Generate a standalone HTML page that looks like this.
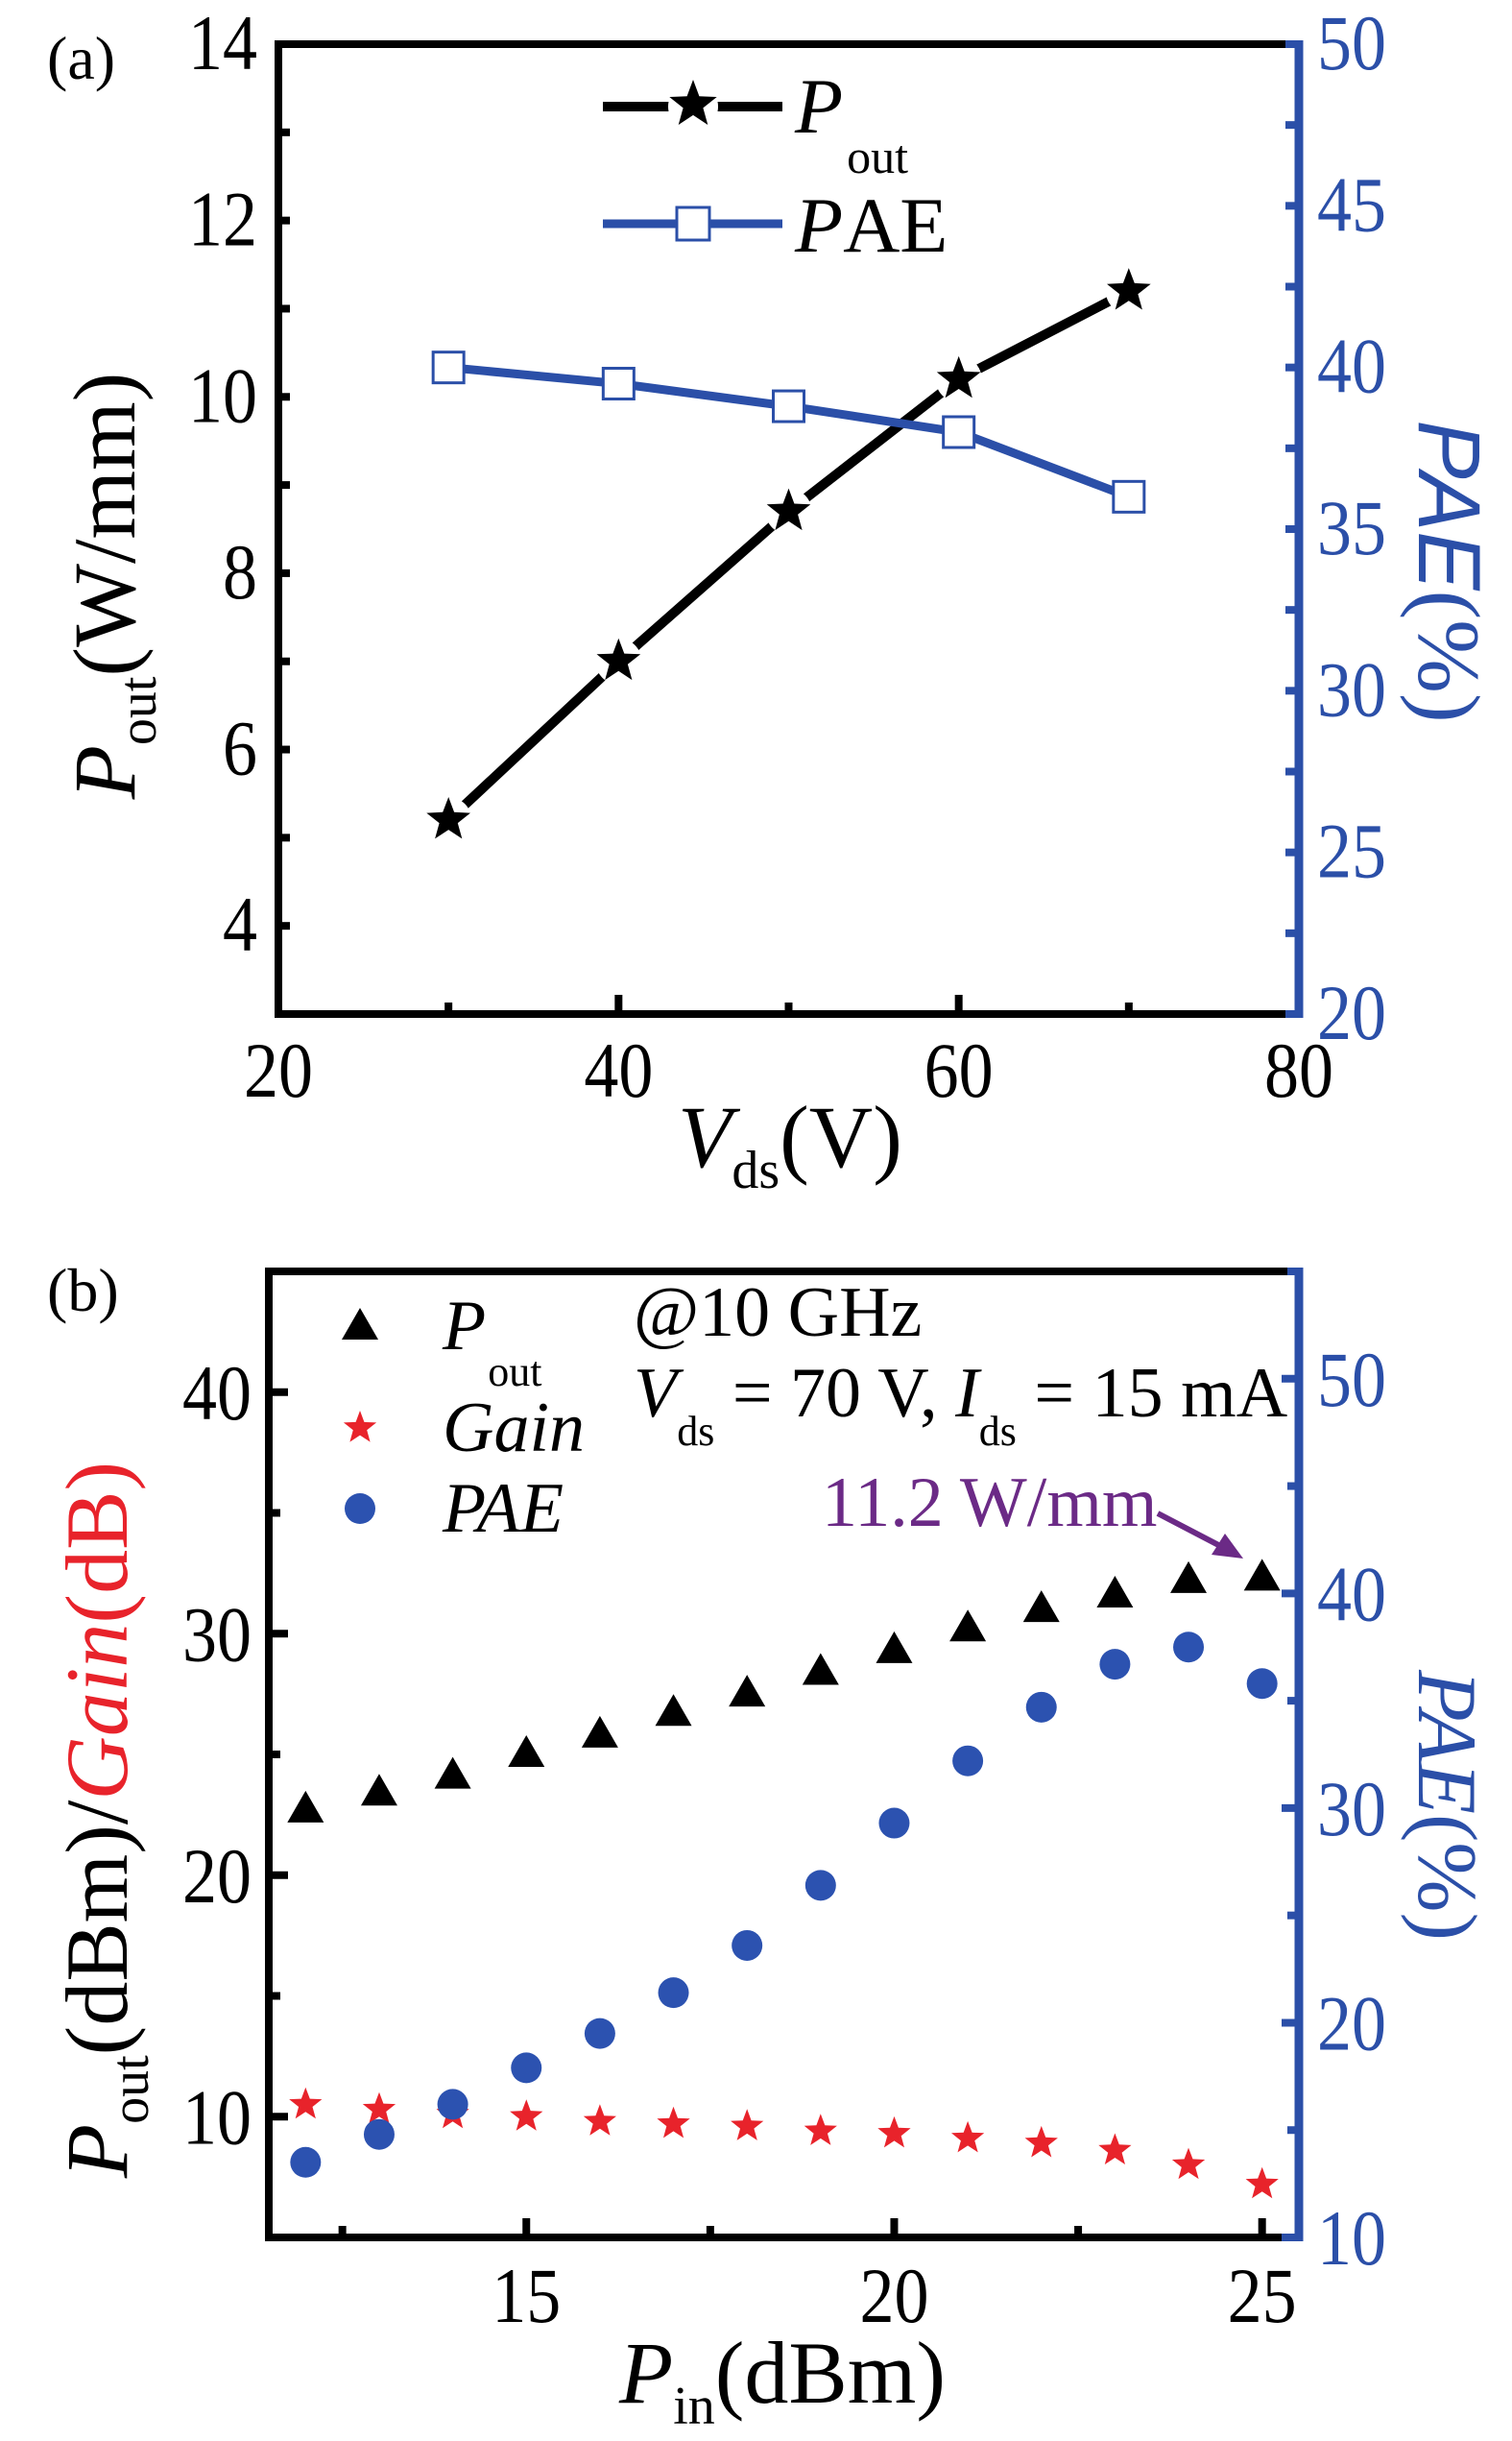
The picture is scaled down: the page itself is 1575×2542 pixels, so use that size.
<!DOCTYPE html>
<html><head><meta charset="utf-8"><style>
html,body{margin:0;padding:0;background:#fff}
svg{display:block}
text{font-family:"Liberation Serif",serif}
</style></head><body>
<svg id="c" width="1575" height="2542" viewBox="0 0 1575 2542" xmlns="http://www.w3.org/2000/svg"></svg>
<script>
// Panel (a) data
const aVds = [30, 40, 50, 60, 70];
const aPout = [5.2, 7.0, 8.7, 10.2, 11.2];
const aPae = [40.0, 39.5, 38.8, 38.0, 36.0];
const aLeftTicks = [4, 6, 8, 10, 12, 14];
const aRightTicks = [20, 25, 30, 35, 40, 45, 50];
const aXTicks = [20, 40, 60, 80];
// Panel (b) data
const bPin = [12, 13, 14, 15, 16, 17, 18, 19, 20, 21, 22, 23, 24, 25];
const bPout = [22.7, 23.4, 24.1, 25.0, 25.8, 26.7, 27.5, 28.4, 29.3, 30.2, 31.0, 31.6, 32.2, 32.3];
const bGain = [10.5, 10.3, 10.1, 10.0, 9.8, 9.7, 9.6, 9.4, 9.3, 9.1, 8.9, 8.6, 8.0, 7.2];
const bPae = [13.5, 14.8, 16.2, 17.9, 19.5, 21.4, 23.6, 26.4, 29.3, 32.2, 34.7, 36.7, 37.5, 35.8];
const bLeftTicks = [10, 20, 30, 40];
const bRightTicks = [10, 20, 30, 40, 50];
const bXTicks = [15, 20, 25];

const svg = document.getElementById('c');
const NS = 'http://www.w3.org/2000/svg';
function mk(tag, attrs, parent) {
  const e = document.createElementNS(NS, tag);
  for (const k in attrs) e.setAttribute(k, attrs[k]);
  (parent || svg).appendChild(e);
  return e;
}
const BLUE = '#2b4fa8', RED = '#e8232b', PURP = '#6b2a86';
function txt(x, y, s, fs, anchor, fill, extra) {
  const t = mk('text', Object.assign({x: x, y: y, 'font-size': fs, 'text-anchor': anchor || 'middle', fill: fill || '#000'}, extra || {}));
  t.textContent = s;
  return t;
}
function star(cx, cy, r, fill) {
  let p = [];
  for (let i = 0; i < 10; i++) {
    const a = -Math.PI / 2 + i * Math.PI / 5;
    const rr = i % 2 ? r * 0.42 : r;
    p.push((cx + rr * Math.cos(a)).toFixed(1) + ',' + (cy + rr * Math.sin(a)).toFixed(1));
  }
  return mk('polygon', {points: p.join(' '), fill: fill});
}

// ---------------- Panel A ----------------
const A = {l: 290, r: 1353, t: 46, b: 1056};
const ax = v => A.l + (v - 20) / 60 * (A.r - A.l);
const ayL = v => A.b - (v - 3) / 11 * (A.b - A.t);
const ayR = v => A.b - (v - 20) / 30 * (A.b - A.t);

let e = txt(49, 82, '(a)', 64, 'start');
 
e = mk('rect', {x: A.l, y: A.t, width: A.r - A.l, height: A.b - A.t, fill: 'none', stroke: '#000', 'stroke-width': 8});
 
e = mk('line', {x1: A.r, y1: A.t - 4, x2: A.r, y2: A.b + 4, stroke: BLUE, 'stroke-width': 9});
 
for (let v = 3; v <= 14; v++) {
  const y = ayL(v);
  mk('line', {x1: A.l, y1: y, x2: A.l + 12, y2: y, stroke: '#000', 'stroke-width': 8});
}
aLeftTicks.forEach(v => {
  e = txt(268, ayL(v) + 26, String(v), 82, 'end', '#000', {textLength: String(v).length * 36, lengthAdjust: 'spacingAndGlyphs'});
   
});
for (let v = 20; v <= 50; v += 2.5) {
  const y = ayR(v);
  mk('line', {x1: A.r - 14, y1: y, x2: A.r, y2: y, stroke: BLUE, 'stroke-width': 8});
}
aRightTicks.forEach(v => {
  e = txt(1372, ayR(v) + 26, String(v), 82, 'start', BLUE, {textLength: 72, lengthAdjust: 'spacingAndGlyphs'});
   
});
for (let v = 30; v <= 70; v += 10) {
  const x = ax(v);
  mk('line', {x1: x, y1: A.b, x2: x, y2: A.b - (v % 20 === 0 ? 20 : 12), stroke: '#000', 'stroke-width': 8});
}
aXTicks.forEach(v => {
  e = txt(ax(v), 1142, String(v), 82, 'middle', '#000', {textLength: 72, lengthAdjust: 'spacingAndGlyphs'});
   
});
e = mk('text', {x: 823, y: 1215, 'font-size': 92, 'text-anchor': 'middle'});
e.innerHTML = '<tspan font-style="italic">V</tspan><tspan font-size="56" dy="22">ds</tspan><tspan dy="-22">(V)</tspan>';
 
e = mk('text', {x: 0, y: 0, 'font-size': 92, 'text-anchor': 'middle', transform: 'translate(140,610) rotate(-90)'});
e.innerHTML = '<tspan font-style="italic">P</tspan><tspan font-size="56" dy="22">out</tspan><tspan dy="-22">(W/mm)</tspan>';
 
e = mk('text', {x: 0, y: 0, 'font-size': 92, 'text-anchor': 'middle', fill: BLUE, transform: 'translate(1478,595) rotate(90)'});
e.innerHTML = '<tspan font-family="Liberation Sans" font-style="italic">PAE</tspan><tspan>(%)</tspan>';
 
let pts = aVds.map((v, i) => ax(v) + ',' + ayL(aPout[i])).join(' ');
e = mk('polyline', {points: pts, fill: 'none', stroke: '#000', 'stroke-width': 10});
 
aVds.forEach((v, i) => {
  mk('circle', {cx: ax(v), cy: ayL(aPout[i]), r: 24, fill: '#fff'});
  e = star(ax(v), ayL(aPout[i]), 24, '#000');
   
});
pts = aVds.map((v, i) => ax(v) + ',' + ayR(aPae[i])).join(' ');
e = mk('polyline', {points: pts, fill: 'none', stroke: BLUE, 'stroke-width': 9});
 
aVds.forEach((v, i) => {
  e = mk('rect', {x: ax(v) - 16, y: ayR(aPae[i]) - 16, width: 32, height: 32, fill: '#fff', stroke: BLUE, 'stroke-width': 3});
   
});
mk('line', {x1: 628, y1: 111, x2: 815, y2: 111, stroke: '#000', 'stroke-width': 10});
mk('circle', {cx: 722, cy: 111, r: 26, fill: '#fff'});
e = star(722, 109, 26, '#000');
 
e = mk('text', {x: 828, y: 138, 'font-size': 82});
e.innerHTML = '<tspan font-style="italic">P</tspan><tspan font-size="50" dx="4" dy="42">out</tspan>';
 
mk('line', {x1: 628, y1: 233, x2: 815, y2: 233, stroke: BLUE, 'stroke-width': 9});
e = mk('rect', {x: 705, y: 216, width: 34, height: 34, fill: '#fff', stroke: BLUE, 'stroke-width': 3});
 
e = mk('text', {x: 828, y: 262, 'font-size': 82});
e.innerHTML = '<tspan font-style="italic">P</tspan><tspan>AE</tspan>';
 

// ---------------- Panel B ----------------
const B = {l: 280, r: 1353, t: 1324, b: 2330};
const bx = v => B.l + (v - 11.5) / 14 * (B.r - B.l);
const byL = v => B.b - (v - 5) / 40 * (B.b - B.t);
const byR = v => B.b - (v - 10) / 45 * (B.b - B.t);

e = txt(49, 1365, '(b)', 64, 'start');
 
e = mk('rect', {x: B.l, y: B.t, width: B.r - B.l, height: B.b - B.t, fill: 'none', stroke: '#000', 'stroke-width': 8});
 
e = mk('line', {x1: B.r, y1: B.t - 4, x2: B.r, y2: B.b + 4, stroke: BLUE, 'stroke-width': 9});
 
for (let v = 10; v <= 40; v += 5) {
  const y = byL(v);
  mk('line', {x1: B.l, y1: y, x2: B.l + (v % 10 === 0 ? 20 : 12), y2: y, stroke: '#000', 'stroke-width': 8});
}
bLeftTicks.forEach(v => {
  e = txt(262, byL(v) + 28, String(v), 82, 'end', '#000', {textLength: 72, lengthAdjust: 'spacingAndGlyphs'});
   
});
for (let v = 10; v <= 55; v += 5) {
  const y = byR(v);
  mk('line', {x1: B.r - (v % 10 === 0 ? 18 : 12), y1: y, x2: B.r, y2: y, stroke: BLUE, 'stroke-width': 8});
}
bRightTicks.forEach(v => {
  e = txt(1372, byR(v) + 28, String(v), 82, 'start', BLUE, {textLength: 72, lengthAdjust: 'spacingAndGlyphs'});
   
});
for (let v = 12.5; v <= 25; v += 2.5) {
  const x = bx(v);
  mk('line', {x1: x, y1: B.b, x2: x, y2: B.b - (v % 5 === 0 ? 20 : 12), stroke: '#000', 'stroke-width': 8});
}
bXTicks.forEach(v => {
  e = txt(bx(v), 2418, String(v), 82, 'middle', '#000', {textLength: 72, lengthAdjust: 'spacingAndGlyphs'});
   
});
e = mk('text', {x: 815, y: 2502, 'font-size': 92, 'text-anchor': 'middle'});
e.innerHTML = '<tspan font-style="italic">P</tspan><tspan font-size="56" dy="22">in</tspan><tspan dy="-22">(dBm)</tspan>';
 
e = mk('text', {x: 0, y: 0, 'font-size': 92, 'text-anchor': 'middle', transform: 'translate(132,1895) rotate(-90)'});
e.innerHTML = '<tspan font-style="italic">P</tspan><tspan font-size="56" dy="22">out</tspan><tspan dy="-22">(dBm)/</tspan><tspan fill="' + RED + '" font-style="italic">Gain</tspan><tspan fill="' + RED + '">(dB)</tspan>';
 
e = mk('text', {x: 0, y: 0, 'font-size': 88, 'text-anchor': 'middle', fill: BLUE, transform: 'translate(1478,1880) rotate(90)'});
e.innerHTML = '<tspan font-style="italic">PAE</tspan><tspan>(%)</tspan>';
 
bPin.forEach((v, i) => {
  const x = bx(v), y = byL(bPout[i]);
  e = mk('polygon', {points: `${x},${y - 20} ${x - 19},${y + 13} ${x + 19},${y + 13}`, fill: '#000'});
   
});
bPin.forEach((v, i) => {
  e = star(bx(v), byL(bGain[i]), 18, RED);
   
});
bPin.forEach((v, i) => {
  e = mk('circle', {cx: bx(v), cy: byR(bPae[i]), r: 16, fill: '#2c52b0'});
   
});
e = mk('polygon', {points: '375,1362 356,1395 394,1395', fill: '#000'});
 
e = mk('text', {x: 461, y: 1405, 'font-size': 74});
e.innerHTML = '<tspan font-style="italic">P</tspan><tspan font-size="44" dx="2" dy="38">out</tspan>';
 
e = star(375, 1487, 18, RED);
 
e = txt(461, 1511, 'Gain', 74, 'start', '#000', {'font-style': 'italic'});
 
e = mk('circle', {cx: 375, cy: 1571, r: 16, fill: '#2c52b0'});
 
e = txt(461, 1595, 'PAE', 74, 'start', '#000', {'font-style': 'italic'});
 
e = txt(660, 1391, '@10 GHz', 74, 'start');
 
e = mk('text', {x: 660, y: 1475, 'font-size': 74});
e.innerHTML = '<tspan font-style="italic">V</tspan><tspan font-size="44" dy="30">ds</tspan><tspan dy="-30"> = 70 V, </tspan><tspan font-style="italic">I</tspan><tspan font-size="44" dy="30">ds</tspan><tspan dy="-30"> = 15 mA</tspan>';
 
e = txt(856, 1589, '11.2 W/mm', 74, 'start', PURP);
 
e = mk('line', {x1: 1206, y1: 1576, x2: 1275, y2: 1612, stroke: PURP, 'stroke-width': 6});
 
mk('polygon', {points: '1295,1623 1262,1619 1276,1597', fill: PURP});
</script>
</body></html>
